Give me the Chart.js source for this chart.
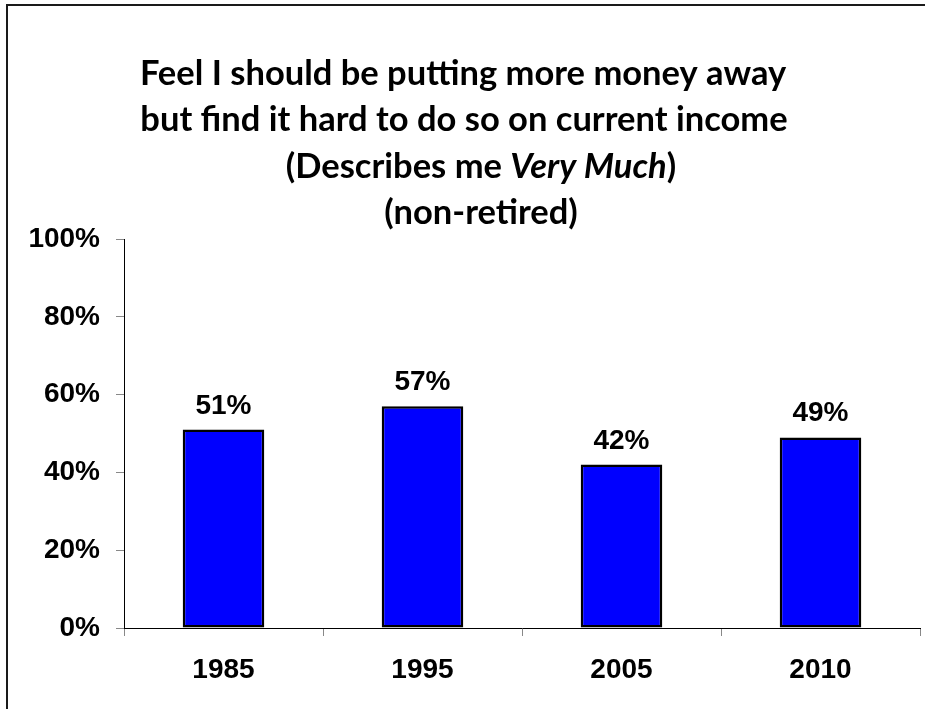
<!DOCTYPE html>
<html>
<head>
<meta charset="utf-8">
<script src="https://cdn.jsdelivr.net/npm/chart.js@4/dist/chart.umd.min.js"></script>
<style>
  html, body { margin: 0; padding: 0; background: #fff; }
  #wrap { width: 925px; height: 709px; position: relative; }
</style>
</head>
<body>
<div id="wrap"><canvas id="chart" width="925" height="709"></canvas></div>
<script>
// survey: share of non-retired who say this describes them "very much"
const years = ['1985', '1995', '2005', '2010'];
const veryMuch = [51, 57, 42, 49];
const yTicks = [0, 20, 40, 60, 80, 100];

// title lines; each line is a list of [text, italic] runs
const titleLines = [
  [['Feel I should be putting more money away', false]],
  [['but find it hard to do so on current income', false]],
  [['(Describes me ', false], ['Very Much', true], [')', false]],
  [['(non-retired)', false]]
];

const TITLE_FONT = 'Lato, "Open Sans", sans-serif';
const AXIS_FONT = '"Liberation Sans", Arial, sans-serif';

// outer frame, runs off the right and bottom edges
const framePlugin = {
  id: 'frame',
  beforeDraw(chart) {
    const c = chart.ctx;
    c.save();
    c.strokeStyle = '#1a1a1a';
    c.lineWidth = 2;
    c.strokeRect(7, 5, chart.width + 20, chart.height + 20);
    c.restore();
  }
};

// multi-run title so part of a line can be italic
const titlePlugin = {
  id: 'richTitle',
  afterDraw(chart) {
    const c = chart.ctx;
    const centers = [463, 464, 481, 481];
    const baselines = [85, 131, 178, 224];
    c.save();
    c.fillStyle = '#000';
    c.textBaseline = 'alphabetic';
    c.textAlign = 'left';
    titleLines.forEach((runs, i) => {
      const fontOf = it => (it ? 'italic ' : '') + 'bold 34.5px ' + TITLE_FONT;
      let total = 0;
      runs.forEach(r => { c.font = fontOf(r[1]); total += c.measureText(r[0]).width; });
      let x = centers[i] - total / 2;
      runs.forEach(r => {
        c.font = fontOf(r[1]);
        c.fillText(r[0], x, baselines[i]);
        x += c.measureText(r[0]).width;
      });
    });
    c.restore();
  }
};

// value labels above each bar
const valueLabels = {
  id: 'valueLabels',
  afterDatasetsDraw(chart) {
    const c = chart.ctx;
    const meta = chart.getDatasetMeta(0);
    c.save();
    c.font = 'bold 28px ' + AXIS_FONT;
    c.fillStyle = '#000';
    c.textAlign = 'center';
    c.textBaseline = 'alphabetic';
    meta.data.forEach((bar, i) => {
      c.fillText(veryMuch[i] + '%', bar.x, bar.y - 16);
    });
    c.restore();
  }
};

new Chart(document.getElementById('chart'), {
  type: 'bar',
  data: {
    labels: years,
    datasets: [{
      data: veryMuch,
      backgroundColor: '#0000ff',
      borderColor: '#000',
      borderWidth: 2.5,
      borderSkipped: false,
      categoryPercentage: 1,
      barPercentage: 0.41
    }]
  },
  options: {
    responsive: false,
    animation: false,
    events: [],
    layout: { padding: { top: 239, right: 5, left: 0, bottom: 0 } },
    plugins: {
      legend: { display: false },
      tooltip: { enabled: false },
      title: { display: false }
    },
    scales: {
      x: {
        grid: { display: true, drawOnChartArea: false, offset: true, tickLength: 8, color: '#888', lineWidth: 1 },
        border: { display: true, color: '#000', width: 1 },
        ticks: { color: '#000', font: { family: AXIS_FONT, size: 28, weight: 'bold' }, padding: 17, maxRotation: 0 },
        afterFit(scale) { scale.height = 81; }
      },
      y: {
        min: 0,
        max: 100,
        afterBuildTicks(scale) { scale.ticks = yTicks.map(v => ({ value: v })); },
        grid: { display: true, drawOnChartArea: false, tickLength: 8, color: '#888', lineWidth: 1 },
        border: { display: true, color: '#000', width: 1 },
        ticks: {
          color: '#000',
          font: { family: AXIS_FONT, size: 28, weight: 'bold' },
          padding: 16,
          callback: v => v + '%'
        },
        afterFit(scale) { scale.width = 124; }
      }
    }
  },
  plugins: [framePlugin, titlePlugin, valueLabels]
});
</script>
</body>
</html>
